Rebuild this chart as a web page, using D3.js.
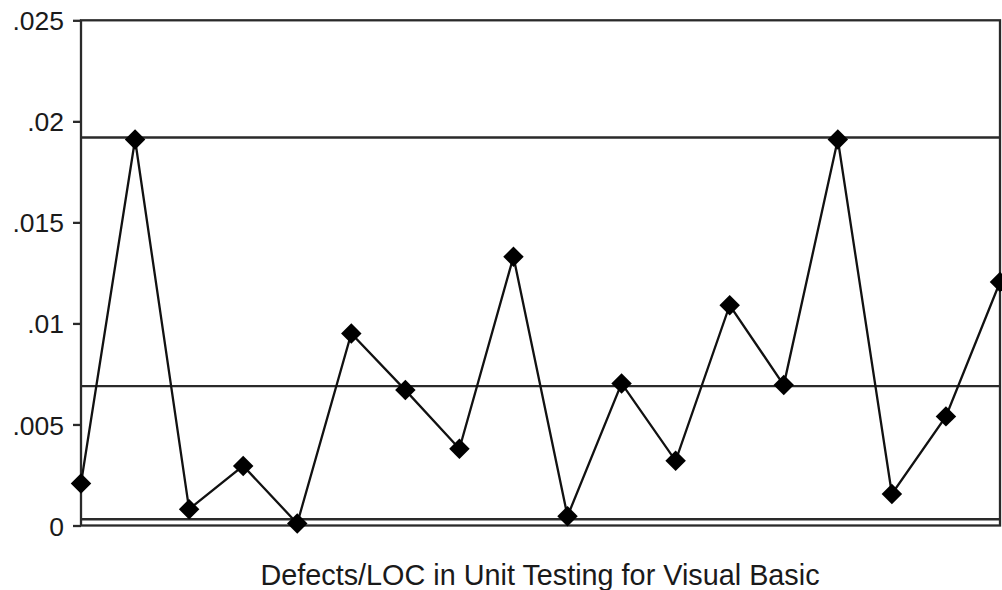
<!DOCTYPE html>
<html><head><meta charset="utf-8">
<script src="https://cdn.jsdelivr.net/npm/d3@7"></script>
<style>html,body{margin:0;padding:0;background:#fff;}svg{display:block;}</style>
</head><body>
<svg id="c" width="1002" height="590"></svg>
<script>
const samples = d3.range(1, 19);
const values = [0.00208, 0.0191, 0.00081, 0.00295, 0.0001, 0.0095, 0.0067, 0.0038, 0.0133, 0.00046, 0.00703, 0.0032, 0.0109, 0.00695, 0.0191, 0.00156, 0.0054, 0.01205];
const centerLine = 0.0069;
const ucl = 0.0192;
const lcl = 0.00031;
const yTicks = [0, 0.005, 0.01, 0.015, 0.02, 0.025];
const yTickLabels = ["0", ".005", ".01", ".015", ".02", ".025"];
const title = "Defects/LOC in Unit Testing for Visual Basic";

const svg = d3.select("#c");
const L = 81, R = 1000, T = 20.3, B = 525.5;
const x = d3.scaleLinear().domain([1, 18]).range([L, R]);
const y = d3.scaleLinear().domain([0, 0.025]).range([B, T]);
const font = "'Liberation Sans', Arial, Helvetica, sans-serif";

// frame
svg.append("rect").attr("x", L).attr("y", T).attr("width", R - L).attr("height", B - T)
  .attr("fill", "none").attr("stroke", "#2a2a2a").attr("stroke-width", 2.3);

// y axis
const ax = svg.append("g").attr("transform", `translate(${L},0)`)
  .call(d3.axisLeft(y).tickValues(yTicks).tickFormat((d, i) => yTickLabels[i]).tickSize(8).tickPadding(9));
ax.select(".domain").remove();
ax.selectAll(".tick line").attr("stroke", "#2a2a2a").attr("stroke-width", 2.3);
ax.selectAll(".tick text").attr("font-family", font).attr("font-size", 26.5).attr("fill", "#1a1a1a").attr("dy", "0.36em");

// control lines
[ucl, centerLine, lcl].forEach(v => {
  svg.append("line").attr("x1", L).attr("x2", R).attr("y1", y(v)).attr("y2", y(v))
    .attr("stroke", "#2a2a2a").attr("stroke-width", 2.3);
});

// data line
svg.append("path").datum(values)
  .attr("d", d3.line().x((d, i) => x(samples[i])).y(d => y(d)))
  .attr("fill", "none").attr("stroke", "#111").attr("stroke-width", 2.3);

// markers
svg.append("g").selectAll("path").data(values).join("path")
  .attr("transform", (d, i) => `translate(${x(samples[i])},${y(d)}) rotate(45)`)
  .attr("d", d3.symbol().type(d3.symbolSquare).size(210))
  .attr("fill", "#000");

// title
svg.append("text").attr("x", 540).attr("y", 585).attr("text-anchor", "middle")
  .attr("font-family", font).attr("font-size", 28.8).attr("fill", "#1a1a1a").text(title);
</script>
</body></html>
